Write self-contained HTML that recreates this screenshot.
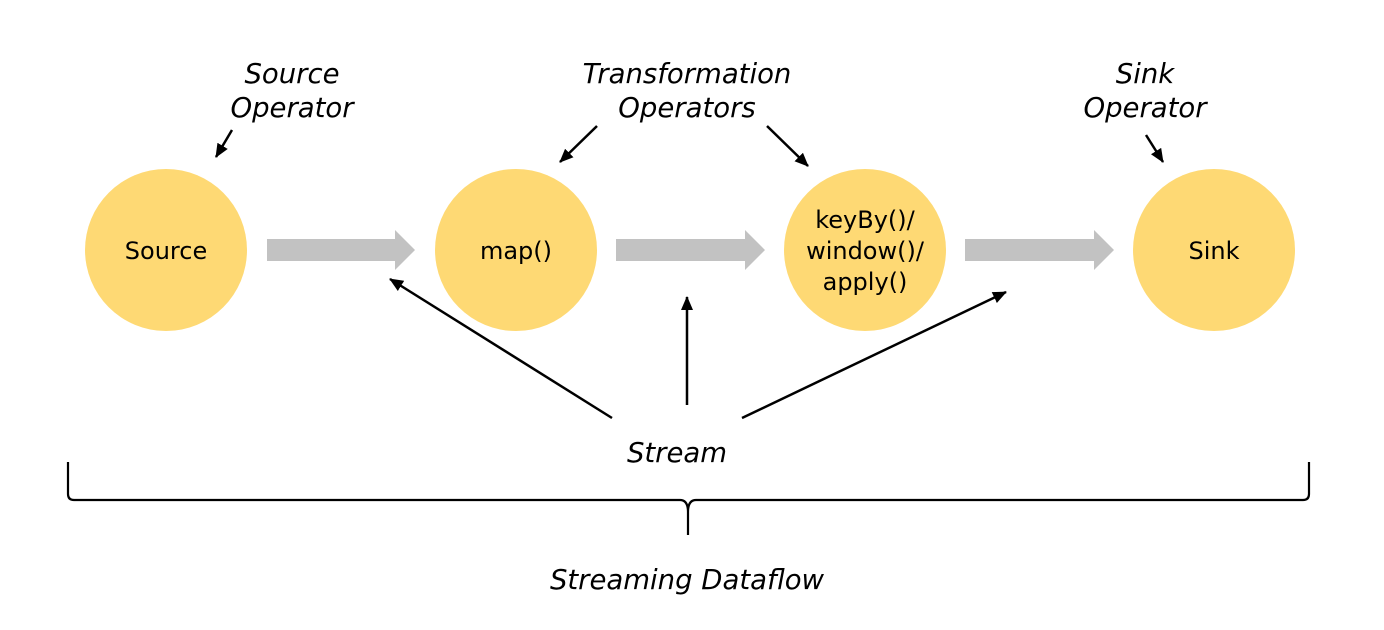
<!DOCTYPE html>
<html><head><meta charset="utf-8"><style>
html,body{margin:0;padding:0;background:#fff;}
svg{display:block;}
text{font-family:"DejaVu Sans","Liberation Sans",sans-serif;}
</style></head><body>
<svg width="1384" height="630" viewBox="0 0 1384 630" xmlns="http://www.w3.org/2000/svg">
<defs>
<marker id="ah" markerWidth="14" markerHeight="12" refX="13" refY="6" orient="auto" markerUnits="userSpaceOnUse">
<path d="M0,0 L14,6 L0,12 z" fill="#000"/>
</marker>
</defs>
<g fill="#c2c2c2">
<polygon points="267,239 395,239 395,230 415,250 395,270 395,261 267,261"/>
<polygon points="616,239 745,239 745,230 765,250 745,270 745,261 616,261"/>
<polygon points="965,239 1094,239 1094,230 1114,250 1094,270 1094,261 965,261"/>
</g>
<g fill="#fed974">
<circle cx="166" cy="250" r="81"/>
<circle cx="516" cy="250" r="81"/>
<circle cx="865" cy="250" r="81"/>
<circle cx="1214" cy="250" r="81"/>
</g>
<g font-size="24" text-anchor="middle" fill="#000">
<text x="166" y="259">Source</text>
<text x="516" y="259">map()</text>
<text x="865" y="228">keyBy()/</text>
<text x="865" y="259">window()/</text>
<text x="865" y="290">apply()</text>
<text x="1214" y="259">Sink</text>
</g>
<g font-size="27.5" font-style="italic" text-anchor="middle" fill="#000">
<text x="292" y="83">Source</text>
<text x="292" y="117">Operator</text>
<text x="687" y="83">Transformation</text>
<text x="687" y="117">Operators</text>
<text x="1145" y="83">Sink</text>
<text x="1145" y="117">Operator</text>
<text x="677" y="462">Stream</text>
<text x="687" y="589">Streaming Dataflow</text>
</g>
<g stroke="#000" stroke-width="2.5" fill="none" marker-end="url(#ah)">
<line x1="232" y1="130" x2="216" y2="157"/>
<line x1="597" y1="126" x2="560" y2="162"/>
<line x1="767" y1="126" x2="808" y2="166"/>
<line x1="1146" y1="135" x2="1163" y2="162"/>
<line x1="612" y1="418" x2="390" y2="279"/>
<line x1="687" y1="405" x2="687" y2="297"/>
<line x1="742" y1="418" x2="1006" y2="292"/>
</g>
<path d="M68,462 V494 Q68,500 74,500 H680 Q688,500 688,512 V535 M688,512 Q688,500 696,500 H1303 Q1309,500 1309,494 V462" stroke="#000" stroke-width="2.2" fill="none"/>
</svg>
</body></html>
